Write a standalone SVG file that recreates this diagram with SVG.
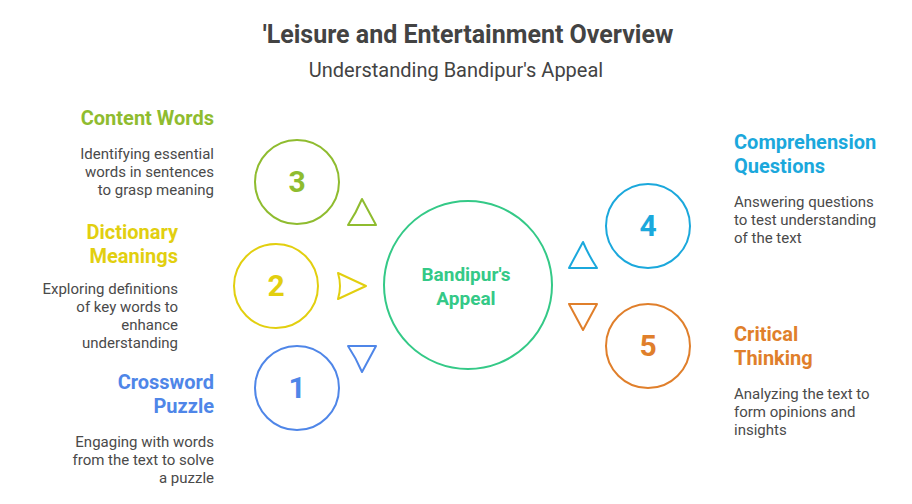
<svg xmlns="http://www.w3.org/2000/svg" width="912" height="504" viewBox="0 0 912 504">
<style>
text{font-family:Roboto,"Liberation Sans",sans-serif}
.h{font-size:20px;font-weight:700}
.b{font-size:15px;fill:#4a4a4a}
.n{font-size:30px;font-weight:700;text-anchor:middle}
.e{text-anchor:end}
.c{font-size:19px;font-weight:700;text-anchor:middle;fill:#34c987}
circle,path{fill:none;stroke-width:2}
path{stroke-linejoin:round}
</style>
<rect width="912" height="504" fill="#ffffff"/>
<text x="468" y="43" font-size="25" font-weight="700" text-anchor="middle" fill="#434343">'Leisure and Entertainment Overview</text>
<text x="456" y="77" font-size="20" text-anchor="middle" fill="#434343">Understanding Bandipur's Appeal</text>
<g id="connectors">
<path d="M362 199L376 225L348 225Q356 213 362 199Z" stroke="#8fbc2f"/>
<path d="M338 273L366 286L338 299Q342 286 338 273Z" stroke="#e2cf0f"/>
<path d="M348 346L376 346L362 372Q356 358 348 346Z" stroke="#4f86e8"/>
<path d="M583 242Q589 256 597 268L569 268L583 242Z" stroke="#1ba8dc"/>
<path d="M569 304L597 304L583 330Z" stroke="#e07f2b"/>
</g>
<g id="center"><circle cx="468" cy="285" r="84" stroke="#34c987"/><text class="c" x="466" y="281">Bandipur's</text><text class="c" x="466" y="305">Appeal</text></g>
<g id="node3"><circle cx="297" cy="182" r="42" stroke="#8fbc2f"/><text class="n" x="297" y="192" fill="#8fbc2f">3</text><text class="h e" x="214" y="125" fill="#8fbc2f">Content Words</text><text class="b e" x="214" y="159">Identifying essential</text><text class="b e" x="214" y="177">words in sentences</text><text class="b e" x="214" y="195">to grasp meaning</text></g>
<g id="node2"><circle cx="276" cy="286" r="42" stroke="#e2cf0f"/><text class="n" x="276" y="296" fill="#e2cf0f">2</text><text class="h e" x="178" y="239" fill="#e2cf0f">Dictionary</text><text class="h e" x="178" y="263" fill="#e2cf0f">Meanings</text><text class="b e" x="178" y="294">Exploring definitions</text><text class="b e" x="178" y="312">of key words to</text><text class="b e" x="178" y="330">enhance</text><text class="b e" x="178" y="348">understanding</text></g>
<g id="node1"><circle cx="297" cy="388" r="42" stroke="#4f86e8"/><text class="n" x="297" y="398" fill="#4f86e8">1</text><text class="h e" x="214" y="389" fill="#4f86e8">Crossword</text><text class="h e" x="214" y="413" fill="#4f86e8">Puzzle</text><text class="b e" x="214" y="447">Engaging with words</text><text class="b e" x="214" y="465">from the text to solve</text><text class="b e" x="214" y="483">a puzzle</text></g>
<g id="node4"><circle cx="648" cy="226" r="42" stroke="#1ba8dc"/><text class="n" x="648" y="236" fill="#1ba8dc">4</text><text class="h" x="734" y="149" fill="#1ba8dc">Comprehension</text><text class="h" x="734" y="173" fill="#1ba8dc">Questions</text><text class="b" x="734" y="207">Answering questions</text><text class="b" x="734" y="225">to test understanding</text><text class="b" x="734" y="243">of the text</text></g>
<g id="node5"><circle cx="648" cy="346" r="42" stroke="#e07f2b"/><text class="n" x="648" y="356" fill="#e07f2b">5</text><text class="h" x="734" y="341" fill="#e07f2b">Critical</text><text class="h" x="734" y="365" fill="#e07f2b">Thinking</text><text class="b" x="734" y="399">Analyzing the text to</text><text class="b" x="734" y="417">form opinions and</text><text class="b" x="734" y="435">insights</text></g>
</svg>
